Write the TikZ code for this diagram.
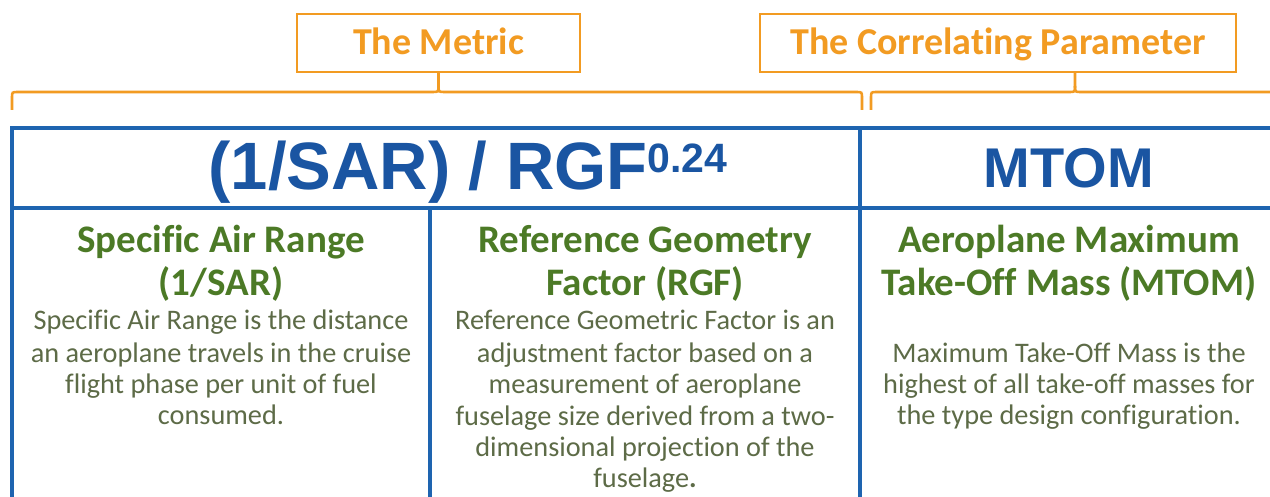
\documentclass[tikz,border=0pt]{standalone}
\usepackage{fontspec}
\newfontfamily\calfont[Ligatures=NoCommon]{Carlito}
\newfontfamily\arifont{Liberation Sans}
\definecolor{orng}{HTML}{F29B22}
\definecolor{bline}{HTML}{1E64B0}
\definecolor{btext}{HTML}{1A55A2}
\definecolor{ghead}{HTML}{4C7A26}
\definecolor{gbody}{HTML}{5D6B47}
\tikzset{
  obox/.style={draw=orng, line width=2.2pt, text=orng, inner sep=0pt,
    font=\calfont\bfseries\fontsize{38}{40}\selectfont, text height=24pt, text depth=0pt},
  brace/.style={draw=orng, line width=2.6pt},
  tline/.style={draw=bline, line width=3.6pt},
  hdr/.style={text=btext, inner sep=0pt, anchor=base, font=\arifont\bfseries\fontsize{67}{70}\selectfont},
  colhead/.style={text=ghead, inner sep=0pt, anchor=base, font=\calfont\bfseries\fontsize{39}{42}\selectfont},
  colbody/.style={text=gbody, inner sep=0pt, anchor=base, font=\calfont\fontsize{28.3}{32}\selectfont}
}
\begin{document}
\begin{tikzpicture}[x=1pt,y=-1pt]
\useasboundingbox (0,0) rectangle (1270,497);
\fill[white] (0,0) rectangle (1270,497);
\clip (0,0) rectangle (1270,497);

% orange label boxes
\node[obox, minimum width=283pt, minimum height=58pt] (metric) at (438.5,43) {The Metric};
\node[obox, minimum width=476pt, minimum height=58pt] (corr) at (998,43) {The Correlating Parameter};

% braces
\coordinate (tipL) at (438.5,86);
\coordinate (tipR) at (1075,86);
\draw[brace] (12,110) -- (12,98) .. controls (12,92) .. (18,92) -- (432,92)
  .. controls (438.5,92) .. (tipL) -- (metric.south);
\draw[brace] (tipL) .. controls (438.5,92) .. (445,92) -- (856,92)
  .. controls (862,92) .. (862,98) -- (862,110);
\draw[brace] (871,110) -- (871,98) .. controls (871,92) .. (877,92) -- (1069,92)
  .. controls (1075,92) .. (tipR) -- (corr.south -| tipR);
\draw[brace] (tipR) .. controls (1075,92) .. (1081,92) -- (1300,92);

% blue table
\draw[tline] (1300,128) -- (12,128) -- (12,530);
\draw[tline] (12,208) -- (1300,208);
\draw[tline] (860,128) -- (860,530);
\draw[tline] (430,208) -- (430,530);

% header row
\node[hdr] (formula) at (468,190) {(1/SAR) / RGF\raisebox{17.5pt}{\fontsize{41}{41}\selectfont 0.24}};
\node[hdr, font=\arifont\bfseries\fontsize{56}{60}\selectfont] (mtom) at (1069,188) {MTOM};

% column 1
\node[colhead] (h1a) at (221,253) {Specific Air Range};
\node[colhead] (h1b) at (221,295) {(1/SAR)};
\node[colbody] (b1a) at (221,330) {Specific Air Range is the distance};
\node[colbody] (b1b) at (221,362) {an aeroplane travels in the cruise};
\node[colbody] (b1c) at (221,393) {flight phase per unit of fuel};
\node[colbody] (b1d) at (221,424) {consumed.};

% column 2
\node[colhead] (h2a) at (645,253) {Reference Geometry};
\node[colhead] (h2b) at (645,295) {Factor (RGF)};
\node[colbody] (b2a) at (645,330) {Reference Geometric Factor is an};
\node[colbody] (b2b) at (645,362) {adjustment factor based on a};
\node[colbody] (b2c) at (645,393) {measurement of aeroplane};
\node[colbody] (b2d) at (645,425) {fuselage size derived from a two-};
\node[colbody] (b2e) at (645,456) {dimensional projection of the};
\node[colbody] (b2f) at (645,487) {fuselage\textbf{.}};

% column 3
\node[colhead] (h3a) at (1069,253) {Aeroplane Maximum};
\node[colhead] (h3b) at (1069,295) {Take-Off Mass (MTOM)};
\node[colbody] (b3a) at (1069,362) {Maximum Take-Off Mass is the};
\node[colbody] (b3b) at (1069,393) {highest of all take-off masses for};
\node[colbody] (b3c) at (1069,424) {the type design configuration.};
\end{tikzpicture}
\end{document}
